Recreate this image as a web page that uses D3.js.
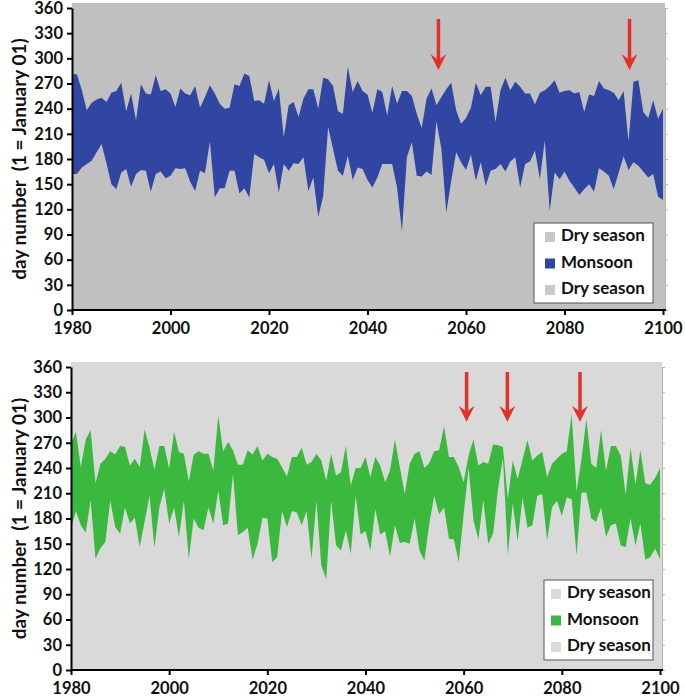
<!DOCTYPE html>
<html>
<head>
<meta charset="utf-8">
<script src="https://cdn.jsdelivr.net/npm/d3@7/dist/d3.min.js"></script>
<style>
  body { margin: 0; background: #fff; }
  svg { display: block; font-family: Lato, "Open Sans", sans-serif; font-weight: bold; }
</style>
</head>
<body>
<svg id="chart" width="685" height="698"></svg>
<script>
const years = d3.range(1980, 2101);
const dayTicks = d3.range(0, 361, 30);
const yearTicks = d3.range(1980, 2101, 20);
const legendLabels = ["Dry season", "Monsoon", "Dry season"];
const yTitle = "day number  (1 = January 01)";

// panel 1 (blue)
const blueWithdrawal = [
  281, 281, 262, 238, 247, 251, 253, 248, 259, 261,
  271, 237, 258, 226, 269, 258, 257, 280, 261, 263,
  258, 242, 264, 258, 256, 267, 241, 254, 268, 258,
  246, 240, 241, 269, 267, 282, 279, 249, 250, 246,
  274, 249, 264, 206, 244, 248, 230, 252, 263, 263,
  240, 277, 275, 267, 237, 234, 290, 260, 273, 261,
  257, 235, 263, 260, 232, 267, 246, 261, 261, 255,
  234, 217, 252, 264, 244, 254, 263, 271, 238, 222,
  229, 241, 271, 256, 266, 266, 224, 262, 277, 262,
  272, 266, 258, 258, 245, 259, 262, 267, 274, 259,
  261, 262, 258, 260, 236, 257, 255, 273, 264, 262,
  259, 250, 261, 201, 272, 274, 236, 229, 250, 228,
  240
];
const blueOnset = [
  162, 162, 170, 174, 178, 188, 198, 175, 150, 144,
  164, 168, 147, 162, 167, 166, 141, 162, 165, 157,
  160, 169, 168, 169, 153, 142, 166, 163, 201, 134,
  145, 145, 166, 166, 139, 145, 134, 186, 182, 179,
  163, 174, 140, 174, 166, 175, 174, 182, 142, 158,
  111, 136, 218, 192, 166, 160, 184, 155, 170, 168,
  155, 146, 158, 174, 174, 174, 146, 94, 182, 200,
  160, 159, 165, 161, 225, 192, 116, 154, 188, 176,
  167, 185, 154, 176, 148, 166, 168, 174, 165, 177,
  182, 146, 174, 177, 190, 156, 202, 118, 164, 156,
  165, 154, 146, 137, 144, 150, 141, 169, 165, 160,
  144, 164, 183, 167, 176, 172, 165, 158, 162, 135,
  131
];
const blueArrows = [2054.4, 2093.2];

// panel 2 (green)
const greenWithdrawal = [
  269, 283, 241, 274, 285, 222, 245, 251, 260, 256,
  266, 265, 243, 251, 241, 286, 264, 238, 266, 266,
  239, 283, 259, 257, 224, 256, 260, 257, 257, 237,
  302, 260, 271, 261, 244, 244, 261, 256, 266, 249,
  257, 253, 251, 241, 230, 253, 253, 264, 244, 247,
  257, 249, 225, 257, 231, 235, 266, 219, 240, 240,
  253, 229, 253, 243, 223, 237, 274, 241, 209, 245,
  257, 260, 240, 246, 260, 261, 290, 253, 253, 241,
  223, 255, 274, 243, 247, 245, 268, 267, 265, 203,
  249, 227, 250, 273, 249, 255, 259, 229, 245, 251,
  257, 260, 304, 212, 250, 298, 245, 240, 285, 237,
  266, 266, 255, 208, 264, 220, 261, 222, 220, 228,
  240
];
const greenOnset = [
  168, 189, 172, 163, 202, 132, 145, 152, 201, 170,
  162, 193, 174, 181, 146, 176, 207, 145, 193, 215,
  174, 193, 158, 201, 132, 180, 169, 166, 193, 174,
  213, 172, 174, 233, 160, 164, 169, 131, 150, 181,
  180, 128, 134, 189, 170, 189, 187, 172, 189, 132,
  201, 124, 108, 201, 148, 142, 166, 138, 207, 161,
  165, 142, 191, 161, 165, 135, 172, 151, 152, 150,
  180, 142, 130, 174, 207, 185, 193, 156, 155, 128,
  185, 240, 178, 155, 202, 150, 162, 215, 252, 137,
  198, 153, 205, 169, 172, 207, 209, 154, 193, 201,
  183, 205, 203, 136, 211, 211, 180, 176, 193, 158,
  172, 174, 148, 146, 180, 148, 174, 131, 134, 144,
  132
];
const greenArrows = [2060.6, 2068.9, 2083.7];

const svg = d3.select("#chart");

function drawPanel(opt) {
  const g = svg.append("g");
  const x = d3.scaleLinear().domain([1980, 2100]).range([opt.left, opt.right]);
  const y = d3.scaleLinear().domain([0, 360]).range([opt.bottom, opt.top]);

  // plot background
  g.append("rect")
    .attr("x", x(1980)).attr("y", opt.top - 5)
    .attr("width", x(2100) - x(1980) + 2).attr("height", opt.bottom - opt.top + 5)
    .attr("fill", opt.bg);

  const data = years.map((yr, i) => ({ yr, on: opt.onset[i], off: opt.withdrawal[i] }));
  const area = d3.area()
    .x(d => x(d.yr))
    .y0(d => y(d.on))
    .y1(d => y(d.off));
  g.append("path").datum(data).attr("d", area).attr("fill", opt.color);

  // faint right axis
  const right = g.append("g")
    .attr("transform", `translate(${x(2100) + 2},0)`)
    .call(d3.axisRight(y).tickValues(dayTicks).tickSize(3).tickSizeOuter(0).tickFormat(""));
  right.selectAll("path, line").attr("stroke", "#b5b5b5");

  const yAxis = g.append("g")
    .attr("transform", `translate(${x(1980)},0)`)
    .call(d3.axisLeft(y).tickValues(dayTicks).tickSize(5).tickSizeOuter(0).tickPadding(4));
  yAxis.selectAll("path, line").attr("stroke", "#000").attr("stroke-width", 2);
  yAxis.selectAll("text").attr("font-size", 16.5).attr("font-family", "Lato").attr("font-weight", "bold").attr("fill", "#111");

  const xAxis = g.append("g")
    .attr("transform", `translate(0,${opt.bottom})`)
    .call(d3.axisBottom(x).tickValues(yearTicks).tickSize(5).tickSizeOuter(0).tickFormat(d3.format("d")).tickPadding(7));
  xAxis.select(".domain").attr("d", `M${x(1980)},0H${x(2100) + 3}`);
  xAxis.selectAll("path, line").attr("stroke", "#000").attr("stroke-width", 2);
  xAxis.selectAll("text").attr("font-size", 16.5).attr("font-family", "Lato").attr("font-weight", "bold").attr("fill", "#111");

  g.append("text")
    .attr("transform", `translate(21,${(opt.top + opt.bottom) / 2}) rotate(-90)`)
    .attr("text-anchor", "middle")
    .attr("dominant-baseline", "middle")
    .attr("font-size", 19)
    .attr("fill", "#111")
    .style("white-space", "pre")
    .text(yTitle);

  // red arrows
  opt.arrows.forEach(a => {
    const ax = x(a), y0 = y(opt.arrowFrom), y1 = y(opt.arrowTo);
    g.append("line")
      .attr("x1", ax).attr("x2", ax).attr("y1", y0).attr("y2", y1 - 10)
      .attr("stroke", "#e2302a").attr("stroke-width", 3.5);
    g.append("path")
      .attr("d", `M${ax - 8},${y1 - 16}L${ax},${y1}L${ax + 8},${y1 - 16}L${ax},${y1 - 10}Z`)
      .attr("fill", "#e2302a");
  });

  // legend
  const lg = g.append("g").attr("transform", `translate(${opt.legend[0]},${opt.legend[1]})`);
  lg.append("rect")
    .attr("width", opt.legend[2]).attr("height", 80)
    .attr("fill", "#fff").attr("stroke", "#555").attr("stroke-width", 1);
  legendLabels.forEach((lab, i) => {
    const row = lg.append("g").attr("transform", `translate(${opt.legend[3]},${14 + i * 26.5})`);
    row.append("rect").attr("x", 0).attr("y", -5).attr("width", 10).attr("height", 10)
      .attr("fill", i === 1 ? opt.color : opt.legendGrey);
    row.append("text").attr("x", 16).attr("y", 0).attr("dominant-baseline", "middle")
      .attr("font-size", 17).attr("fill", "#111").text(lab);
  });
}

drawPanel({
  left: 72, right: 663, top: 8, bottom: 310,
  bg: "#c0c0c0", color: "#3046a2", legendGrey: "#c8c8c8",
  onset: blueOnset, withdrawal: blueWithdrawal,
  arrows: blueArrows, arrowFrom: 347, arrowTo: 286,
  legend: [534, 223, 119, 11]
});

drawPanel({
  left: 71, right: 660, top: 367, bottom: 670,
  bg: "#d9d9d9", color: "#3bb93f", legendGrey: "#dadada",
  onset: greenOnset, withdrawal: greenWithdrawal,
  arrows: greenArrows, arrowFrom: 354, arrowTo: 295,
  legend: [544, 580, 109, 7]
});
</script>
</body>
</html>
